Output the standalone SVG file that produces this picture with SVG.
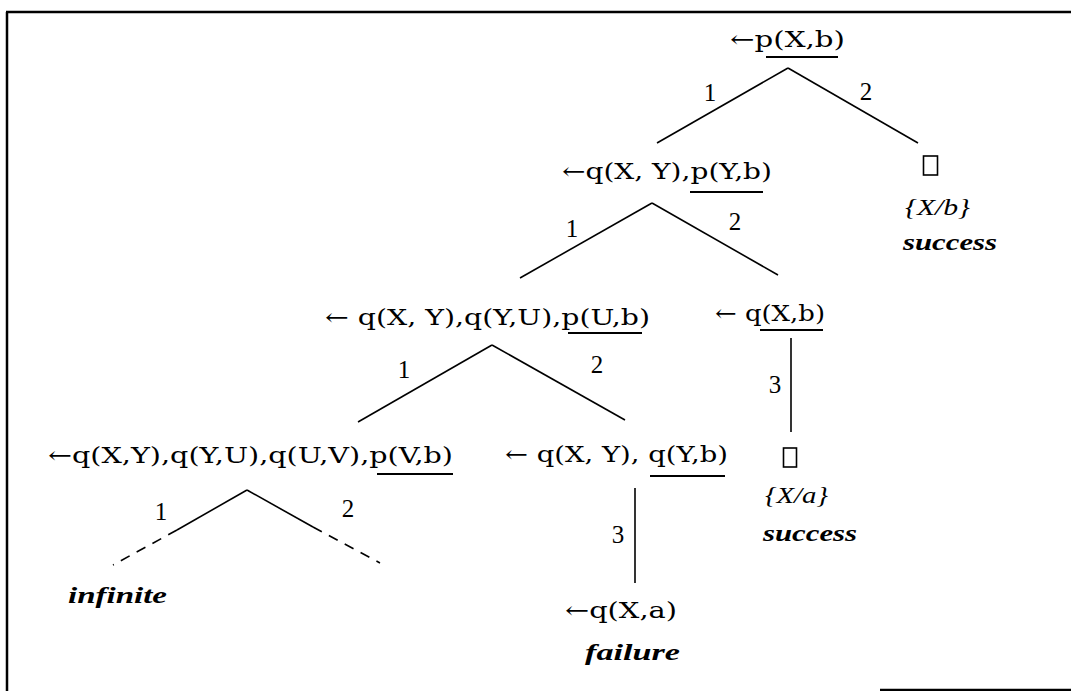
<svg xmlns="http://www.w3.org/2000/svg" width="1071" height="691" viewBox="0 0 1071 691">
<style>
.t{font-family:"DejaVu Serif","Liberation Serif",serif;font-size:23px;fill:#000}
.lb{font-family:"Liberation Serif","DejaVu Serif",serif;font-size:25px;fill:#000;text-anchor:middle}
.sub{font-family:"Liberation Serif",serif;font-style:italic;font-size:24px;fill:#000}
.res{font-family:"Liberation Serif",serif;font-style:italic;font-weight:bold;font-size:24px;fill:#000}
.ul{stroke:#000;stroke-width:2}
.e{stroke:#000;stroke-width:1.6;fill:none}
.d{stroke:#000;stroke-width:1.6;fill:none;stroke-dasharray:10 8}
.box{fill:none;stroke:#000;stroke-width:1.6}
.frame{stroke:#000;stroke-width:2.5;fill:none}
</style>
<rect x="0" y="0" width="1071" height="691" fill="#fff"/>
<g id="frame">
<line class="frame" x1="6" y1="12" x2="1071" y2="12"/>
<line class="frame" x1="7" y1="12" x2="7" y2="691"/>
<line class="frame" x1="880" y1="690" x2="1071" y2="690"/>
</g>
<g id="connectors">
<line class="e" x1="788" y1="68" x2="657" y2="143"/>
<line class="e" x1="788" y1="68" x2="918" y2="143"/>
<line class="e" x1="652" y1="203" x2="520" y2="278"/>
<line class="e" x1="652" y1="203" x2="778" y2="275"/>
<line class="e" x1="492" y1="345" x2="358" y2="422"/>
<line class="e" x1="492" y1="345" x2="625" y2="420"/>
<line class="e" x1="791" y1="338" x2="791" y2="432"/>
<line class="e" x1="635" y1="488" x2="635" y2="583"/>
<line class="e" x1="247" y1="490" x2="177" y2="530"/>
<line class="d" x1="177" y1="530" x2="113" y2="565"/>
<line class="e" x1="247" y1="490" x2="313" y2="527"/>
<line class="d" x1="313" y1="527" x2="380" y2="563"/>
<text class="lb" x="710" y="101">1</text>
<text class="lb" x="866" y="100">2</text>
<text class="lb" x="572" y="237">1</text>
<text class="lb" x="735" y="230">2</text>
<text class="lb" x="404" y="378">1</text>
<text class="lb" x="597" y="373">2</text>
<text class="lb" x="775" y="393">3</text>
<text class="lb" x="161" y="520">1</text>
<text class="lb" x="348" y="517">2</text>
<text class="lb" x="618" y="543">3</text>
</g>
<g id="n1">
<text class="t" x="730" y="47" textLength="115" lengthAdjust="spacingAndGlyphs">←p(X,b)</text>
<line class="ul" x1="766" y1="57" x2="838" y2="57"/>
</g>
<g id="n2">
<text class="t" x="562" y="179" textLength="210" lengthAdjust="spacingAndGlyphs">←q(X, Y),p(Y,b)</text>
<line class="ul" x1="690" y1="192" x2="763" y2="192"/>
</g>
<g id="n3">
<rect class="box" x="923.5" y="156" width="14" height="19"/>
<text class="sub" x="905" y="215" textLength="65" lengthAdjust="spacingAndGlyphs">{X/b}</text>
<text class="res" x="903" y="250" textLength="94" lengthAdjust="spacingAndGlyphs">success</text>
</g>
<g id="n4">
<text class="t" x="325" y="325" textLength="325" lengthAdjust="spacingAndGlyphs">← q(X, Y),q(Y,U),p(U,b)</text>
<line class="ul" x1="568" y1="333" x2="642" y2="333"/>
</g>
<g id="n5">
<text class="t" x="715" y="321" textLength="110" lengthAdjust="spacingAndGlyphs">← q(X,b)</text>
<line class="ul" x1="760" y1="330" x2="823" y2="330"/>
</g>
<g id="n6">
<rect class="box" x="783.5" y="448" width="13" height="19"/>
<text class="sub" x="765" y="503" textLength="63" lengthAdjust="spacingAndGlyphs">{X/a}</text>
<text class="res" x="763" y="541" textLength="94" lengthAdjust="spacingAndGlyphs">success</text>
</g>
<g id="n7">
<text class="t" x="48" y="463" textLength="405" lengthAdjust="spacingAndGlyphs">←q(X,Y),q(Y,U),q(U,V),p(V,b)</text>
<line class="ul" x1="377" y1="474" x2="453" y2="474"/>
</g>
<g id="n8">
<text class="t" x="505" y="462" textLength="223" lengthAdjust="spacingAndGlyphs">← q(X, Y), q(Y,b)</text>
<line class="ul" x1="650" y1="476" x2="725" y2="476"/>
</g>
<g id="n9">
<text class="res" x="68" y="603" textLength="99" lengthAdjust="spacingAndGlyphs">infinite</text>
</g>
<g id="n10">
<text class="t" x="565" y="618" textLength="112" lengthAdjust="spacingAndGlyphs">←q(X,a)</text>
<text class="res" x="585" y="660" textLength="95" lengthAdjust="spacingAndGlyphs">failure</text>
</g>
</svg>
